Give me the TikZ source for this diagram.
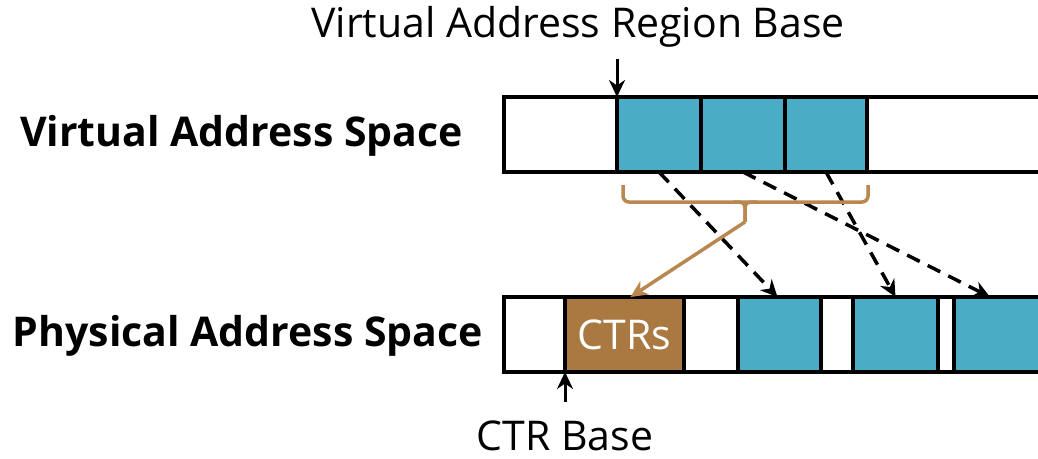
\documentclass[tikz,border=0pt]{standalone}
\usepackage{fontspec}
\setmainfont{Open Sans}
\usetikzlibrary{positioning, arrows.meta}

\definecolor{cellblue}{RGB}{75,172,198}
\definecolor{ctrbrown}{RGB}{170,121,66}
\definecolor{bracebrown}{RGB}{185,135,80}

\begin{document}
\begin{tikzpicture}[x=1pt,y=-1pt,node distance=0pt]
\tikzstyle{every node}=[inner sep=0pt,font=\fontsize{41}{46}\selectfont]
\tikzstyle{cell}=[draw,line width=4pt,minimum height=75pt,outer sep=0pt]
\tikzstyle{tip}=[>={Stealth[length=17pt,width=16pt]}]
\tikzstyle{map}=[->,tip,line width=3.5pt,dash pattern=on 14pt off 9pt]
\tikzstyle{brace}=[bracebrown,line width=3.5pt]

\useasboundingbox (0,0) rectangle (1038,458);

% virtual address space
\node[cell,minimum width=113pt,anchor=north west] (v0) at (504,97) {};
\node[cell,fill=cellblue,minimum width=84pt,right=of v0] (v1) {};
\node[cell,fill=cellblue,minimum width=84pt,right=of v1] (v2) {};
\node[cell,fill=cellblue,minimum width=82pt,right=of v2] (v3) {};
\node[cell,minimum width=190pt,right=of v3] (v4) {};

% physical address space
\node[cell,minimum width=61pt,anchor=north west] (p0) at (504,297) {};
\node[cell,fill=ctrbrown,text=white,minimum width=119pt,right=of p0] (p1) {CTRs};
\node[cell,minimum width=54pt,right=of p1] (p2) {};
\node[cell,fill=cellblue,minimum width=83pt,right=of p2] (p3) {};
\node[cell,minimum width=32pt,right=of p3] (p4) {};
\node[cell,fill=cellblue,minimum width=85pt,right=of p4] (p5) {};
\node[cell,minimum width=16pt,right=of p5] (p6) {};
\node[cell,fill=cellblue,minimum width=100pt,right=of p6] (p7) {};

% labels
\node (vregion) at (578,27) {Virtual Address Region Base};
\node[anchor=base] (ctrbase) at (565,450) {CTR Base};
\node[anchor=east,font=\fontsize{41}{46}\selectfont\bfseries] (vspace) at (463,136) {Virtual Address Space};
\node[anchor=east,font=\fontsize{41}{46}\selectfont\bfseries] (pspace) at (483,336) {Physical Address Space};

% base pointers
\draw[->,tip,line width=3pt] ([yshift=38pt]v1.north west) -- (v1.north west);
\draw[->,tip,line width=3pt] ([yshift=-30pt]p1.south west) -- (p1.south west);

% page mappings
\draw[map] (v1.south) -- ([xshift=-2pt]p3.north);
\draw[map] (v2.south) -- ([xshift=36pt]p7.north west);
\draw[map] (v3.south) -- (p5.north);

% brace over the region and its counters
\coordinate (brtip) at (745,222);
\draw[brace,rounded corners=6pt] (623,185) |- (745,202) -| (868,185);
\draw[brace,rounded corners=5pt] (733,202) -| (brtip);
\draw[brace,rounded corners=5pt] (757,202) -| (brtip);
\draw[brace,->,tip] (brtip) -- ([xshift=6pt]p1.north);
\end{tikzpicture}
\end{document}
